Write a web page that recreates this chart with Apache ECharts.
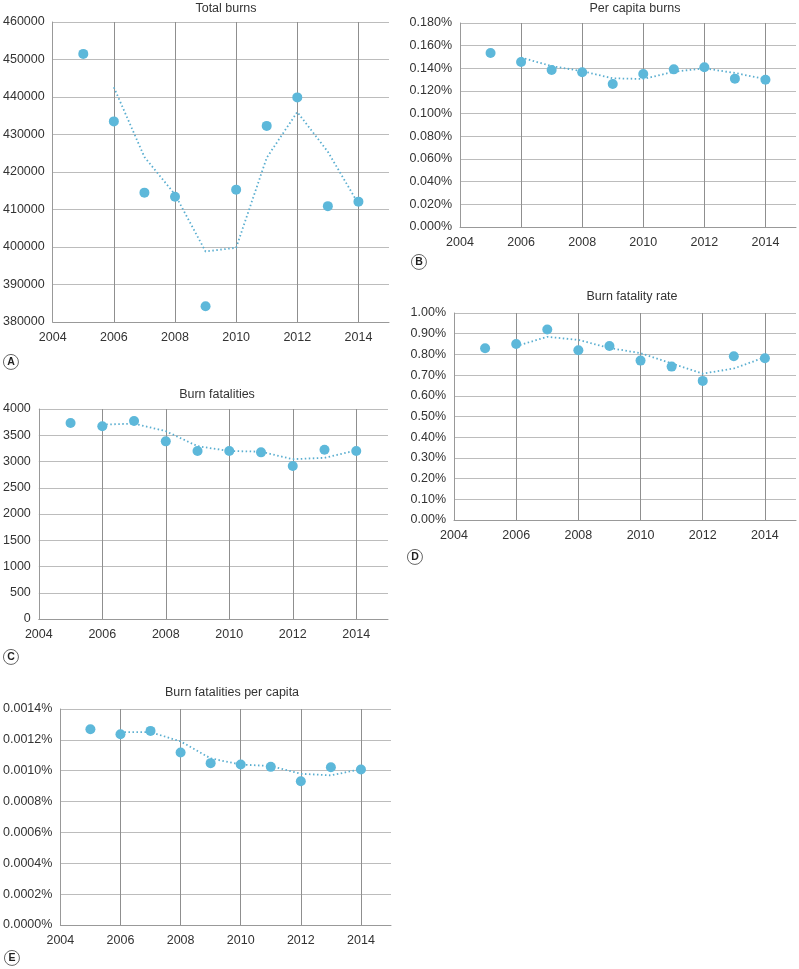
<!DOCTYPE html>
<html><head><meta charset="utf-8">
<script src="https://cdn.jsdelivr.net/npm/echarts@6/dist/echarts.min.js"></script>
<style>html,body{margin:0;padding:0;background:#fff}#c{width:799px;height:969px}</style>
</head><body><div id="c"></div>
<script>
const years = [2005,2006,2007,2008,2009,2010,2011,2012,2013,2014];
const trendYears = [2006,2007,2008,2009,2010,2011,2012,2013,2014];

const totalBurns = [451500,433500,414500,413400,384200,415300,432300,439900,410900,412100];
const totalBurnsTrend = [442600,424000,414000,398800,399800,423800,436000,425400,411500];

const perCapitaBurns = [0.1535,0.1456,0.1385,0.1365,0.1262,0.1350,0.1391,0.1409,0.1309,0.1300];
const perCapitaBurnsTrend = [0.1495,0.1420,0.1375,0.1312,0.1306,0.1370,0.1400,0.1359,0.1305];

const burnFatalities = [3734,3670,3773,3384,3200,3200,3174,2914,3225,3200];
const burnFatalitiesTrend = [3702,3722,3578,3292,3200,3187,3044,3070,3212];

const fatalityRate = [0.830,0.850,0.920,0.820,0.841,0.770,0.741,0.672,0.791,0.781];
const fatalityRateTrend = [0.840,0.885,0.870,0.831,0.806,0.756,0.707,0.732,0.786];

const fatalitiesPerCapita = [0.001269,0.001236,0.001258,0.001118,0.001049,0.001040,0.001025,0.000932,0.001023,0.001008];
const fatalitiesPerCapitaTrend = [0.00125,0.00125,0.00119,0.00108,0.00104,0.00103,0.00098,0.00097,0.00101];

const titles = ['Total burns','Per capita burns','Burn fatalities','Burn fatality rate','Burn fatalities per capita'];
const panelLetters = ['A','B','C','D','E'];

const panels = [
  {vals: totalBurns, trend: totalBurnsTrend, min: 380000, max: 460000, interval: 10000, fmt: v => String(v),
   grid: {left: 52, top: 22, width: 337, height: 300}, title: [221, -3], letter: [11, 362]},
  {vals: perCapitaBurns, trend: perCapitaBurnsTrend, min: 0, max: 0.18, interval: 0.02, fmt: v => v.toFixed(3) + '%',
   grid: {left: 460, top: 23, width: 339, height: 204}, title: [630, -3], letter: [419, 262]},
  {vals: burnFatalities, trend: burnFatalitiesTrend, min: 0, max: 4000, interval: 500, fmt: v => String(v),
   grid: {left: 37, top: 409, width: 351, height: 210}, title: [212, 383], letter: [11, 657]},
  {vals: fatalityRate, trend: fatalityRateTrend, min: 0, max: 1.0, interval: 0.1, fmt: v => v.toFixed(2) + '%',
   grid: {left: 454, top: 313, width: 345, height: 207}, title: [627, 285], letter: [415, 557]},
  {vals: fatalitiesPerCapita, trend: fatalitiesPerCapitaTrend, min: 0, max: 0.0014, interval: 0.0002, fmt: v => v.toFixed(4) + '%',
   grid: {left: 59, top: 709, width: 332, height: 216}, title: [227, 681], letter: [12, 958]}
];

const dotColor = '#5db8da';
const lineColor = '#5aaed0';
const textColor = '#333';
const font = 'Liberation Sans, Arial, sans-serif';

const option = {
  animation: false,
  backgroundColor: '#fff',
  title: [], grid: [], xAxis: [], yAxis: [], series: [], graphic: []
};

panels.forEach((p, i) => {
  option.grid.push(Object.assign({containLabel: false}, p.grid));
  option.title.push({
    text: titles[i], left: p.title[0], top: p.title[1], textAlign: 'center',
    textStyle: {fontSize: 12.5, fontWeight: 'normal', color: textColor, fontFamily: font}
  });
  option.xAxis.push({
    type: 'value', gridIndex: i, min: 2004, max: 2015, interval: 2,
    axisLine: {show: true, lineStyle: {color: '#999', width: 1}},
    axisTick: {show: false},
    axisLabel: {color: textColor, fontSize: 12.5, fontFamily: font, margin: 9,
      formatter: v => (v === 2015 ? '' : String(v))},
    splitLine: {show: true, showMinLine: true, showMaxLine: false, lineStyle: {color: '#8f8f8f', width: 1}}
  });
  option.yAxis.push({
    type: 'value', gridIndex: i, min: p.min, max: p.max, interval: p.interval,
    axisLine: {show: true, lineStyle: {color: '#999', width: 1}},
    axisTick: {show: false},
    axisLabel: {color: textColor, fontSize: 12.5, fontFamily: font, margin: 8, formatter: p.fmt},
    splitLine: {show: true, lineStyle: {color: '#bcbcbc', width: 1}}
  });
  option.series.push({
    type: 'line', xAxisIndex: i, yAxisIndex: i, showSymbol: false, symbol: 'none',
    data: trendYears.map((y, k) => [y, p.trend[k]]),
    lineStyle: {color: lineColor, width: 1.8, type: [1.5, 2.5]}, z: 2
  });
  option.series.push({
    type: 'scatter', xAxisIndex: i, yAxisIndex: i, symbolSize: 10,
    data: years.map((y, k) => [y, p.vals[k]]),
    itemStyle: {color: dotColor, opacity: 1}, z: 3
  });
  option.graphic.push({
    type: 'group', left: p.letter[0] - 8, top: p.letter[1] - 8,
    children: [
      {type: 'circle', shape: {cx: 8, cy: 8, r: 7.5}, style: {fill: '#fff', stroke: '#555', lineWidth: 0.9}},
      {type: 'text', x: 8, y: 8.5, style: {text: panelLetters[i], fill: '#222', font: '600 10.5px ' + font, align: 'center', verticalAlign: 'middle'}}
    ]
  });
});

const chart = echarts.init(document.getElementById('c'), null, {renderer: 'canvas'});
chart.setOption(option);
</script>
</body></html>
